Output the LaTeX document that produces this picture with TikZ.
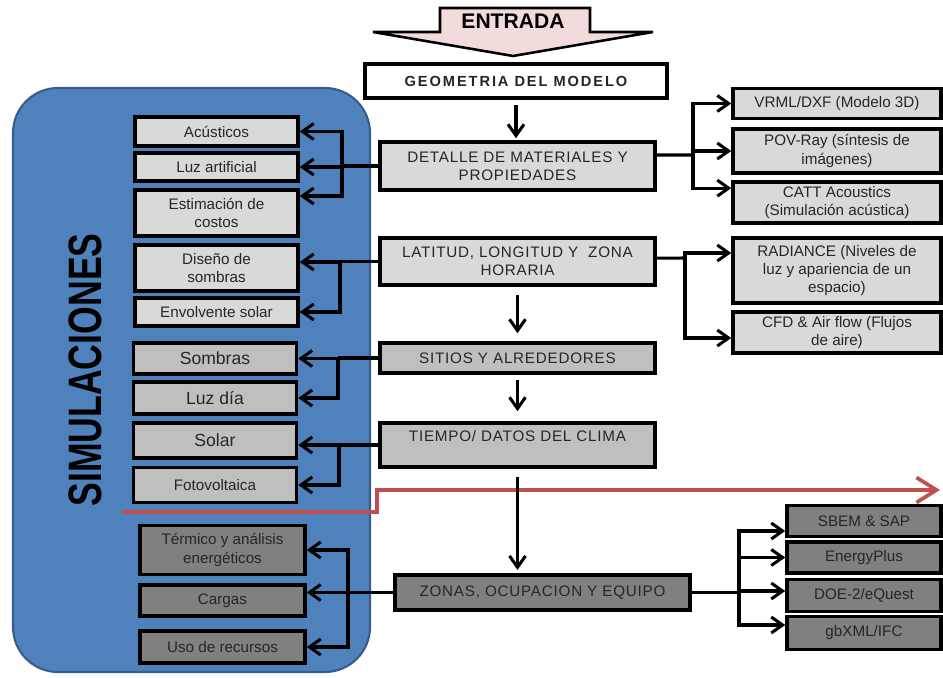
\documentclass[tikz,border=0pt]{standalone}
\usepackage{fontspec}
\setmainfont{Liberation Sans}
\newfontfamily\espaciada{Liberation Sans}[LetterSpace=5]
\usetikzlibrary{arrows.meta}

\definecolor{claro}{HTML}{D9D9D9}
\definecolor{medio}{HTML}{BFBFBF}
\definecolor{oscuro}{HTML}{808080}
\definecolor{azul}{HTML}{4F81BD}
\definecolor{azulborde}{HTML}{385D8A}
\definecolor{rojo}{HTML}{C0504D}
\definecolor{rosa}{HTML}{F2DCDB}

\begin{document}
\begin{tikzpicture}[x=0.3mm, y=-0.3mm]
  %tikz%
  % Del modelo a las simulaciones
  %tikz%
    \tikzset{caja/.style={draw, line width=3pt, align=center, inner sep=1pt,
        text=black!85, font=\fontsize{13}{15.5}\selectfont},
      izq/.style={caja, minimum width={163*0.3mm}},
      der/.style={caja, fill=claro, minimum width={208*0.3mm}},
      centro/.style={caja, minimum width={275*0.3mm},
        font=\espaciada\fontsize{13}{15.5}\selectfont},
      linea/.style={line width=2.6pt},
      flecha/.style={line width=2.6pt, -{Straight Barb[length=3.4mm, width=4.8mm]}}}

    \useasboundingbox (0,0) rectangle (943,678);

    % panneau bleu
    \draw[fill=azul, draw=azulborde, line width=1.8pt, rounded corners=13.5mm]
      (13,88) rectangle (370,672);
    \node[rotate=90, font=\fontsize{40}{40}\selectfont\bfseries] (titulo) at (85,370)
      {\scalebox{0.76}[1]{SIMULACIONES}};

    % ligne rouge
    \draw[rojo, line width=3.2pt, -{Straight Barb[length=6mm, width=7.5mm]}]
      (122,512) -- (377,512) -- (377,490) -- (940,490);

    % entrada
    \draw[fill=rosa, line width=2.2pt] (440,8) -- (590,8) -- (590,32) -- (653,32)
      -- (513,56) -- (373,32) -- (440,32) -- cycle;
    \node[font=\fontsize{18}{18}\selectfont\bfseries] (entrada) at (513,21) {ENTRADA};

    % colonne centrale
    \node[caja, fill=white, minimum width={302*0.3mm}, minimum height={34*0.3mm},
      font=\fontsize{12.5}{15}\selectfont\bfseries\addfontfeatures{LetterSpace=13}]
      (geometria) at (516,81) {GEOMETRIA DEL MODELO};
    \node[centro, fill=claro, minimum height={48*0.3mm}] (detalle) at (517.5,166)
      {DETALLE DE MATERIALES Y\\PROPIEDADES};
    \node[centro, fill=claro, minimum height={47*0.3mm}] (latitud) at (517.5,261.5)
      {LATITUD, LONGITUD Y \ ZONA\\HORARIA};
    \node[centro, fill=medio, minimum height={30*0.3mm}] (sitios) at (517.5,358)
      {SITIOS Y ALREDEDORES};
    \node[centro, fill=medio, minimum height={44*0.3mm}] (tiempo) at (517.5,445)
      {TIEMPO/ DATOS DEL CLIMA\\\mbox{}};
    \node[centro, fill=oscuro, minimum width={295*0.3mm}, minimum height={35*0.3mm}]
      (zonas) at (542.5,592.5) {ZONAS, OCUPACION Y EQUIPO};

    % cases de gauche
    \foreach \nom/\y/\h/\txt in {acusticos/131.5/29/{Acústicos},
        luzart/167/28/{Luz artificial}, costos/213/46/{Estimación de\\costos},
        disenio/268/46/{Diseño de\\sombras}, envolvente/312/28/{Envolvente solar}}
      \node[izq, fill=claro, minimum height={\h*0.3mm}] (\nom) at (216.5,\y) {\txt};
    \foreach \nom/\y/\h/\txt in {sombras/358.5/31/{Sombras}, luzdia/398/32/{Luz día},
        solar/440.5/35/{Solar}}
      \node[izq, fill=medio, minimum height={\h*0.3mm},
        font=\fontsize{15}{17}\selectfont] (\nom) at (215,\y) {\txt};
    \node[izq, fill=medio, minimum height={35*0.3mm}] (fotovoltaica) at (215,485)
      {Fotovoltaica};
    \foreach \nom/\y/\h/\txt in {termico/550/49/{Térmico y análisis\\energéticos},
        cargas/600.5/31/{Cargas}, recursos/647/32/{Uso de recursos}}
      \node[izq, fill=oscuro, minimum width={165*0.3mm}, minimum height={\h*0.3mm}]
        (\nom) at (222.5,\y) {\txt};

    % cases de droite
    \foreach \nom/\y/\h/\txt in {vrml/103.5/30/{VRML/DXF (Modelo 3D)},
        povray/151/44/{POV-Ray (síntesis de\\imágenes)},
        catt/202.5/41/{CATT Acoustics\\(Simulación acústica)},
        radiance/270.5/65/{RADIANCE (Niveles de\\luz y apariencia de un\\espacio)},
        cfd/332.5/41/{CFD \& Air flow (Flujos\\de aire)}}
      \node[der, minimum height={\h*0.3mm}] (\nom) at (837,\y) {\txt};
    \foreach \nom/\y/\h/\txt in {sbem/521/31/{SBEM \& SAP},
        energyplus/557.5/31/{EnergyPlus}, doe/595.5/32/{DOE-2/eQuest},
        gbxml/633/33/{gbXML/IFC}}
      \node[caja, fill=oscuro, minimum width={154*0.3mm}, minimum height={\h*0.3mm}]
        (\nom) at (864,\y) {\txt};

    % fleches centrales
    \draw[flecha, shorten <=1.5mm, shorten >=0.6mm]
      (geometria.south) -- (geometria.south |- detalle.north);
    \draw[flecha, shorten <=2.4mm, shorten >=2.4mm]
      (latitud.south) -- (latitud.south |- sitios.north);
    \draw[flecha, shorten <=1.5mm, shorten >=3mm]
      (sitios.south) -- (sitios.south |- tiempo.north);
    \draw[flecha, shorten <=2.4mm, shorten >=1mm]
      (tiempo.south) -- (tiempo.south |- zonas.north);

    % accolades vers la gauche
    \coordinate (t1) at (342,166);
    \draw[linea] (detalle.west) -- (t1);
    \foreach \b in {acusticos, luzart} \draw[flecha] (t1) |- (\b.east);
    \draw[flecha] (t1) |- ([yshift=5.1mm]costos.east);

    \coordinate (t2) at (340,261.5);
    \draw[linea] (latitud.west) -- (t2);
    \draw[flecha] (t2) |- ([yshift=1.8mm]disenio.east);
    \draw[flecha] (t2) |- (envolvente.east);

    \coordinate (t3) at (338,358);
    \draw[linea] (sitios.west) -- (t3);
    \foreach \b in {sombras, luzdia} \draw[flecha] (t3) |- (\b.east);

    \coordinate (t4) at (339,445);
    \draw[flecha] (tiempo.west) -- (tiempo.west -| solar.east);
    \draw[flecha] (t4) |- (fotovoltaica.east);

    \coordinate (t5) at (348,592.5);
    \draw[flecha] (zonas.west) -- (zonas.west -| cargas.east);
    \foreach \b in {termico, recursos} \draw[flecha] (t5) |- (\b.east);

    % accolades vers la droite
    \coordinate (t6) at (693,155);
    \draw[linea] ([yshift=3.3mm]detalle.east) -- (t6);
    \foreach \b in {vrml, povray} \draw[flecha] (t6) |- (\b.west);
    \draw[flecha] (t6) |- ([yshift=4.3mm]catt.west);

    \coordinate (t7) at (685,258);
    \draw[linea] ([yshift=1mm]latitud.east) -- (t7);
    \draw[flecha] (t7) |- ([yshift=5.25mm]radiance.west);
    \draw[flecha] (t7) |- ([yshift=-1.65mm]cfd.west);

    \coordinate (t8) at (739,592.5);
    \draw[linea] (zonas.east) -- (t8);
    \draw[flecha] (t8) |- ([yshift=-3mm]sbem.west);
    \draw[flecha] (t8) |- (energyplus.west);
    \draw[flecha] (t8) |- ([yshift=1.35mm]doe.west);
    \draw[flecha] (t8) |- ([yshift=2.4mm]gbxml.west);

  \end{tikzpicture}
\end{document}
